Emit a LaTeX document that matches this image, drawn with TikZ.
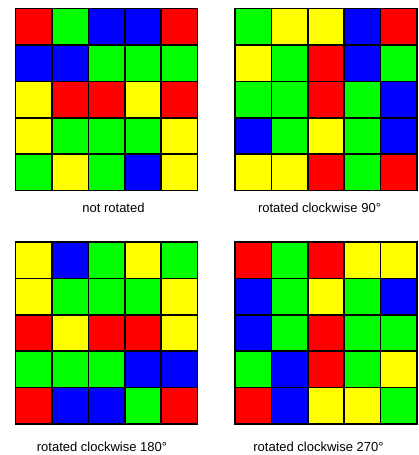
\documentclass[tikz,border=0pt]{standalone}
\usepackage{fontspec}
\setmainfont{Liberation Sans}
\usepackage{tikz}
\definecolor{cr}{RGB}{255,0,0}
\definecolor{cg}{RGB}{0,255,0}
\definecolor{cb}{RGB}{0,0,255}
\definecolor{cy}{RGB}{255,255,0}
% 5x5 board: #1 name, #2 top-left corner, #3 rows of colours
\newcommand{\colourboard}[3]{%
  \coordinate (#1) at #2;
  \foreach \row [count=\i from 0] in {#3} {
    \foreach \c [count=\j from 0] in \row {
      \draw[cell, fill=\c] ($(#1)+(\j*36.4,\i*36.4)$) rectangle ++(36.4,36.4);
    }
  }%
}
\usetikzlibrary{calc}

\begin{document}
\begin{tikzpicture}[
  x=1pt, y=-1pt,
  font=\fontsize{13}{15}\selectfont,
  cell/.style={draw=black, line width=1.6pt},
  caption/.style={inner sep=0pt, anchor=center},
]
  \useasboundingbox (0,0) rectangle (418,455);

  % Boards
  \colourboard{b0}{(15.5,8.5)}{{cr,cg,cb,cb,cr},{cb,cb,cg,cg,cg},{cy,cr,cr,cy,cr},{cy,cg,cg,cg,cy},{cg,cy,cg,cb,cy}}
  \colourboard{b90}{(235,8.5)}{{cg,cy,cy,cb,cr},{cy,cg,cr,cb,cg},{cg,cg,cr,cg,cb},{cb,cg,cy,cg,cb},{cy,cy,cr,cg,cr}}
  \colourboard{b180}{(15.5,242)}{{cy,cb,cg,cy,cg},{cy,cg,cg,cg,cy},{cr,cy,cr,cr,cy},{cg,cg,cg,cb,cb},{cr,cb,cb,cg,cr}}
  \colourboard{b270}{(235,242)}{{cr,cg,cr,cy,cy},{cb,cg,cy,cg,cb},{cb,cg,cr,cg,cg},{cg,cb,cr,cg,cy},{cr,cb,cy,cy,cg}}

  % Captions
  \node[caption] (t0)   at (113.5,207.5) {not rotated};
  \node[caption] (t90)  at (319.5,207.5) {rotated clockwise 90°};
  \node[caption] (t180) at (102,446.5)   {rotated clockwise 180°};
  \node[caption] (t270) at (318.5,446.5) {rotated clockwise 270°};
\end{tikzpicture}
\end{document}
